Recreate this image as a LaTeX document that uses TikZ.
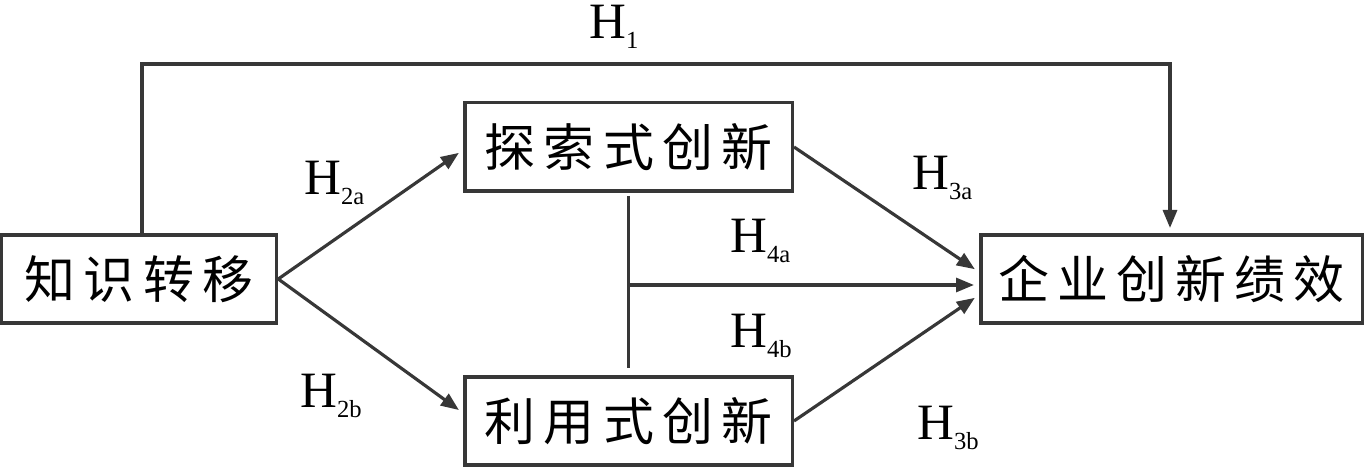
\documentclass[tikz,border=0pt]{standalone}
\usepackage{fontspec}
\setmainfont{Liberation Serif}
\newfontfamily\cjk[LetterSpace=16]{Noto Sans CJK SC}
\usetikzlibrary{arrows.meta}
\definecolor{linegray}{RGB}{55,55,55}
\newcommand{\hyp}[1]{H\raisebox{-0.18em}{\fontsize{14}{14}\selectfont #1}}
\tikzset{
  varbox/.style = {draw = linegray, line width = 2pt, inner sep = 0pt,
                   minimum height = 1.77cm, font = \cjk\fontsize{29}{29}\selectfont},
  path/.style   = {draw = linegray, line width = 1.8pt},
  arr/.style    = {path, -{Triangle[length=0.36cm, width=0.28cm]}, shorten >= 0.1cm},
  hlab/.style   = {anchor = base west, inner sep = 0pt, font = \fontsize{29}{29}\selectfont}
}
\begin{document}
\begin{tikzpicture}
    % Fix the page size
    \useasboundingbox (0,0) rectangle (27.34,9.36);

    % Draw the four boxes
    \node[varbox, minimum width = 5.5cm] (zszy) at (2.78,3.78) {知识转移};
    \node[varbox, minimum width = 6.55cm] (tsxcx) at (12.57,6.42) {探索式创新};
    \node[varbox, minimum width = 6.55cm] (lyscx) at (12.57,0.94) {利用式创新};
    \node[varbox, minimum width = 7.63cm] (qycxjx) at (23.43,3.78) {企业创新绩效};

    % Define corner of the top path and the split point
    \coordinate (top) at (12,8.08);
    \coordinate (mid) at (12.6,3.66);

    % Draw the connectors
    \draw[arr] ([xshift=0.06cm]zszy.north) |- (top) -| ([xshift=-0.03cm]qycxjx.north);
    \draw[arr] (zszy.east) -- ([yshift=-0.06cm]tsxcx.west);
    \draw[arr] (zszy.east) -- ([yshift=0.16cm]lyscx.west);
    \draw[arr] (tsxcx.east) -- ([yshift=0.14cm]qycxjx.west);
    \draw[arr] (lyscx.east) -- ([yshift=-0.32cm]qycxjx.west);
    \draw[path, shorten <= 0.06cm, shorten >= 0.14cm] (tsxcx.south) -- (lyscx.north);
    \draw[arr] (mid) -- (mid -| qycxjx.west);

    % Hypothesis labels
    \node[hlab] (h1) at (11.78,8.58) {\hyp{1}};
    \node[hlab] (h2a) at (6.08,5.46) {\hyp{2a}};
    \node[hlab] (h2b) at (6.0,1.2) {\hyp{2b}};
    \node[hlab] (h3a) at (18.24,5.56) {\hyp{3a}};
    \node[hlab] (h3b) at (18.34,0.56) {\hyp{3b}};
    \node[hlab] (h4a) at (14.6,4.3) {\hyp{4a}};
    \node[hlab] (h4b) at (14.6,2.4) {\hyp{4b}};
\end{tikzpicture}
\end{document}
